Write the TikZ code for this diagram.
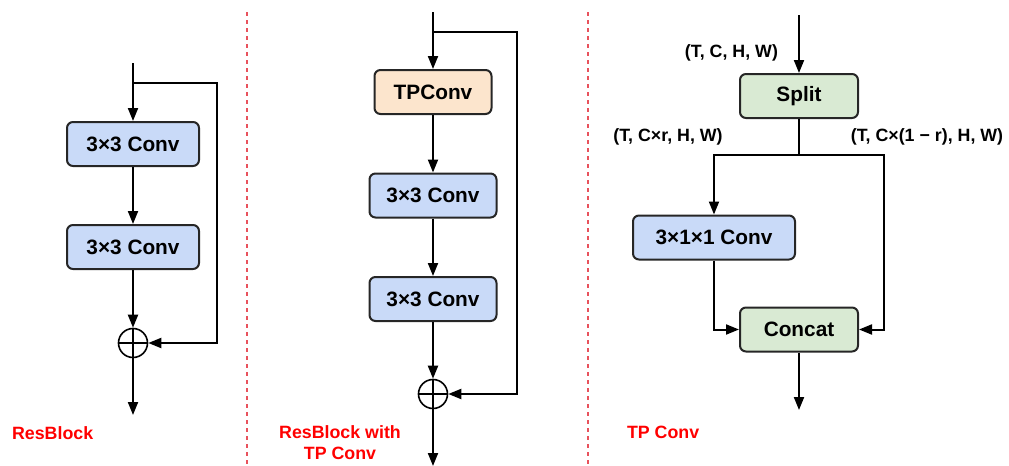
\documentclass[tikz,border=0pt]{standalone}
\usepackage{fontspec}
\setmainfont{Liberation Sans}
\usepackage{tikz}
\usetikzlibrary{arrows.meta,positioning,calc}
\definecolor{convblue}{RGB}{201,218,248}
\definecolor{tporange}{RGB}{252,229,205}
\definecolor{splitgreen}{RGB}{217,234,211}
\definecolor{sepred}{RGB}{232,82,92}

\tikzset{
  block/.style={draw=black!85, line width=1pt, rounded corners=3pt, minimum height=22pt,
    font=\fontsize{10.4}{12}\selectfont\bfseries, inner sep=0pt},
  conv/.style={block, fill=convblue},
  flow/.style={line width=1pt, -{Triangle[length=6.5pt,width=5pt]}},
  adder/.style={draw, circle, line width=0.8pt, minimum size=14.5pt, inner sep=0pt,
    path picture={\draw[line width=0.8pt] (path picture bounding box.north) -- (path picture bounding box.south)
      (path picture bounding box.west) -- (path picture bounding box.east);}},
  shape label/.style={font=\fontsize{8.9}{10.5}\selectfont\bfseries},
  title/.style={font=\fontsize{8.9}{10.5}\selectfont\bfseries, text=red, align=center}
}

\begin{document}
\begin{tikzpicture}[x=0.5pt, y=-0.5pt]
  \useasboundingbox (0,0) rectangle (1009,466);
  % separators
  \draw[sepred, line width=0.6pt, dash pattern=on 2pt off 2pt] (247,12) -- (247,466);
  \draw[sepred, line width=0.6pt, dash pattern=on 2pt off 2pt] (588,12) -- (588,466);

  % ResBlock
  \coordinate (rin) at (133,63);
  \coordinate (rsplit) at (133,83);
  \coordinate (rskip) at (217,83);
  \node[conv, minimum width=66pt] (rconvA) at (133,144) {3×3 Conv};
  \node[conv, minimum width=66pt] (rconvB) at (133,247) {3×3 Conv};
  \node[adder] (radd) at (133,343) {};
  \coordinate (rout) at (133,415);
  \draw[flow] (rin) -- (rconvA);
  \draw[flow] (rconvA) -- (rconvB);
  \draw[flow] (rconvB) -- (radd);
  \draw[flow] (rsplit) -- (rskip) |- (radd);
  \draw[flow] (radd) -- (rout);
  \node[title, anchor=west] (rtitle) at (5,433) {ResBlock};

  % ResBlock with TP Conv
  \coordinate (min) at (433,12);
  \coordinate (msplit) at (433,32);
  \coordinate (mskip) at (517,32);
  \node[block, fill=tporange, minimum width=58.5pt] (mtp) at (433,92) {TPConv};
  \node[conv, minimum width=63.5pt] (mconvA) at (433,195.5) {3×3 Conv};
  \node[conv, minimum width=63.5pt] (mconvB) at (433,299) {3×3 Conv};
  \node[adder] (madd) at (433,394) {};
  \coordinate (mout) at (433,466);
  \draw[flow] (min) -- (mtp);
  \draw[flow] (mtp) -- (mconvA);
  \draw[flow] (mconvA) -- (mconvB);
  \draw[flow] (mconvB) -- (madd);
  \draw[flow] (msplit) -- (mskip) |- (madd);
  \draw[flow] (madd) -- (mout);
  \node[title] (mtitle) at (340,443) {ResBlock with\\TP Conv};

  % TP Conv
  \coordinate (tin) at (799,15);
  \node[block, fill=splitgreen, minimum width=59pt] (tsplit) at (799,96) {Split};
  \coordinate (tfork) at (799,155);
  \coordinate (tleft) at (714,155);
  \coordinate (tright) at (884,155);
  \node[conv, minimum width=81pt] (ttemp) at (714,237.5) {3×1×1 Conv};
  \node[block, fill=splitgreen, minimum width=59pt] (tcat) at (799,329.5) {Concat};
  \coordinate (tout) at (799,410);
  \draw[flow] (tin) -- (tsplit);
  \draw[line width=1pt] (tsplit) -- (tfork);
  \draw[flow] (tfork) -- (tleft) -- (ttemp);
  \draw[flow] (ttemp) |- (tcat);
  \draw[flow] (tfork) -- (tright) |- (tcat);
  \draw[flow] (tcat) -- (tout);
  \node[shape label, anchor=east] (lin) at (785,53) {(T, C, H, W)};
  \node[shape label] (lleft) at (668,137) {(T, C×r, H, W)};
  \node[shape label] (lright) at (927,137) {(T, C×(1 − r), H, W)};
  \node[title, anchor=west] (ttitle) at (620,432) {TP Conv};
\end{tikzpicture}
\end{document}
